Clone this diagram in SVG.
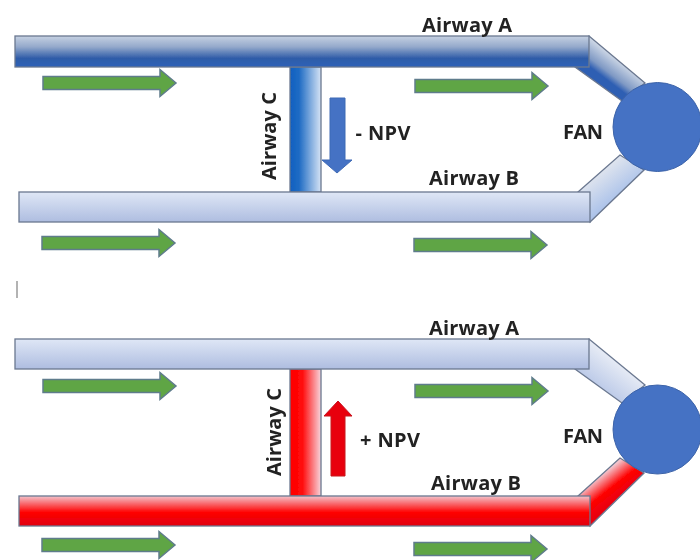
<svg xmlns="http://www.w3.org/2000/svg" width="700" height="560" viewBox="0 0 700 560">
<defs>
<linearGradient id="hDark" x1="0" y1="0" x2="0" y2="1"><stop offset="0" stop-color="#c6d1e2"/><stop offset="0.35" stop-color="#94a9cb"/><stop offset="0.72" stop-color="#2f5ca8"/><stop offset="1" stop-color="#2f62b8"/></linearGradient>
<linearGradient id="hLight" x1="0" y1="0" x2="0" y2="1"><stop offset="0" stop-color="#dfe7f6"/><stop offset="1" stop-color="#aebde0"/></linearGradient>
<linearGradient id="hRed" x1="0" y1="0" x2="0" y2="1"><stop offset="0" stop-color="#f3c4cc"/><stop offset="0.55" stop-color="#ff0000"/><stop offset="1" stop-color="#e00010"/></linearGradient>
<linearGradient id="vBlue" x1="0" y1="0" x2="1" y2="0"><stop offset="0" stop-color="#0f5fc0"/><stop offset="0.3" stop-color="#1f6cc4"/><stop offset="1" stop-color="#d5e3f5"/></linearGradient>
<linearGradient id="vRed" x1="0" y1="0" x2="1" y2="0"><stop offset="0" stop-color="#ff0000"/><stop offset="0.4" stop-color="#ff0a0a"/><stop offset="1" stop-color="#f8d5dc"/></linearGradient>
<linearGradient id="dTopDark" gradientUnits="userSpaceOnUse" x1="617" y1="59" x2="598" y2="84"><stop offset="0" stop-color="#ccd6e5"/><stop offset="0.5" stop-color="#7f99c4"/><stop offset="0.72" stop-color="#2f5fb3"/></linearGradient>
<linearGradient id="dTopLight" gradientUnits="userSpaceOnUse" x1="617" y1="362" x2="598" y2="387"><stop offset="0" stop-color="#e6ebf5"/><stop offset="1" stop-color="#bccae8"/></linearGradient>
<linearGradient id="dBotLight" gradientUnits="userSpaceOnUse" x1="599" y1="174" x2="617" y2="197"><stop offset="0" stop-color="#dde3ee"/><stop offset="1" stop-color="#aec4ea"/></linearGradient>
<linearGradient id="dBotRed" gradientUnits="userSpaceOnUse" x1="599" y1="477" x2="617" y2="500"><stop offset="0" stop-color="#f3c4cc"/><stop offset="0.55" stop-color="#ff0000"/><stop offset="1" stop-color="#e80010"/></linearGradient>
<filter id="soft" x="-2%" y="-2%" width="104%" height="104%"><feGaussianBlur stdDeviation="0.7"/></filter>
<polygon id="green" points="0,-6.5 117,-6.5 117,-13.5 133,0 117,13.5 117,6.5 0,6.5" fill="#5fa544" stroke="#5f7c8c" stroke-width="1.5"/>
</defs>
<style>
.pipe{stroke:#6b7890;stroke-width:1.3}
.lbl{font-family:"Open Sans","Liberation Sans",sans-serif;font-weight:700;font-size:20px;fill:#222}
.fan{fill:#4472c4;stroke:#3d63a8;stroke-width:1}
</style>
<g filter="url(#soft)">
<g id="connectors">
<g id="top-duct-a"><polygon class="pipe" points="589,36 645,83 622,101 575,67" fill="url(#dTopDark)"/></g>
<g id="top-duct-b"><polygon class="pipe" points="578,192 620,155 644,170 590,222" fill="url(#dBotLight)"/></g>
<g id="bottom-duct-a"><polygon class="pipe" points="589,339 645,385 622,403 575,369" fill="url(#dTopLight)"/></g>
<g id="bottom-duct-b"><polygon class="pipe" points="578,496 620,458 644,473 590,526" fill="url(#dBotRed)"/></g>
<use href="#green" x="43" y="83"/>
<use href="#green" x="415" y="86"/>
<use href="#green" x="42" y="243"/>
<use href="#green" x="414" y="245"/>
<use href="#green" x="43" y="386"/>
<use href="#green" x="415" y="391"/>
<use href="#green" x="42" y="545"/>
<use href="#green" x="414" y="549"/>
<polygon points="330,98 345,98 345,160 352,160 337,173 322,160 330,160" fill="#4472c4" stroke="#3f6ab5"/>
<polygon points="331,476 345,476 345,416 352,416 338,401 324,416 331,416" fill="#e8000f" stroke="#c8101c"/>
</g>
<g id="top-airway-c"><rect class="pipe" x="290" y="67" width="31" height="125" fill="url(#vBlue)"/></g>
<g id="top-airway-a"><rect class="pipe" x="15" y="36" width="574" height="31" fill="url(#hDark)"/></g>
<g id="top-airway-b"><rect class="pipe" x="19" y="192" width="571" height="30" fill="url(#hLight)"/></g>
<g id="bottom-airway-c"><rect class="pipe" x="290" y="369" width="31" height="127" fill="url(#vRed)"/></g>
<g id="bottom-airway-a"><rect class="pipe" x="15" y="339" width="574" height="30" fill="url(#hLight)"/></g>
<g id="bottom-airway-b"><rect class="pipe" x="19" y="496" width="571" height="30" fill="url(#hRed)"/></g>
<g id="top-fan"><circle class="fan" cx="657.5" cy="127" r="44.5"/></g>
<g id="bottom-fan"><circle class="fan" cx="657.5" cy="429.5" r="44.5"/></g>
<line x1="17" y1="281" x2="17" y2="298" stroke="#9a9a9a" stroke-width="1.5"/>
<text class="lbl" x="467" y="32" text-anchor="middle" textLength="90">Airway A</text>
<text class="lbl" x="474" y="185" text-anchor="middle" textLength="90">Airway B</text>
<text class="lbl" x="474" y="335" text-anchor="middle" textLength="90">Airway A</text>
<text class="lbl" x="476" y="490" text-anchor="middle" textLength="90">Airway B</text>
<text class="lbl" x="583" y="139" text-anchor="middle" textLength="40">FAN</text>
<text class="lbl" x="583" y="443" text-anchor="middle" textLength="40">FAN</text>
<text class="lbl" x="383" y="140" text-anchor="middle" textLength="55">- NPV</text>
<text class="lbl" x="390" y="447" text-anchor="middle" textLength="60">+ NPV</text>
<text class="lbl" transform="translate(276,136) rotate(-90)" text-anchor="middle" textLength="88">Airway C</text>
<text class="lbl" transform="translate(281,432) rotate(-90)" text-anchor="middle" textLength="88">Airway C</text>
</g>
</svg>
